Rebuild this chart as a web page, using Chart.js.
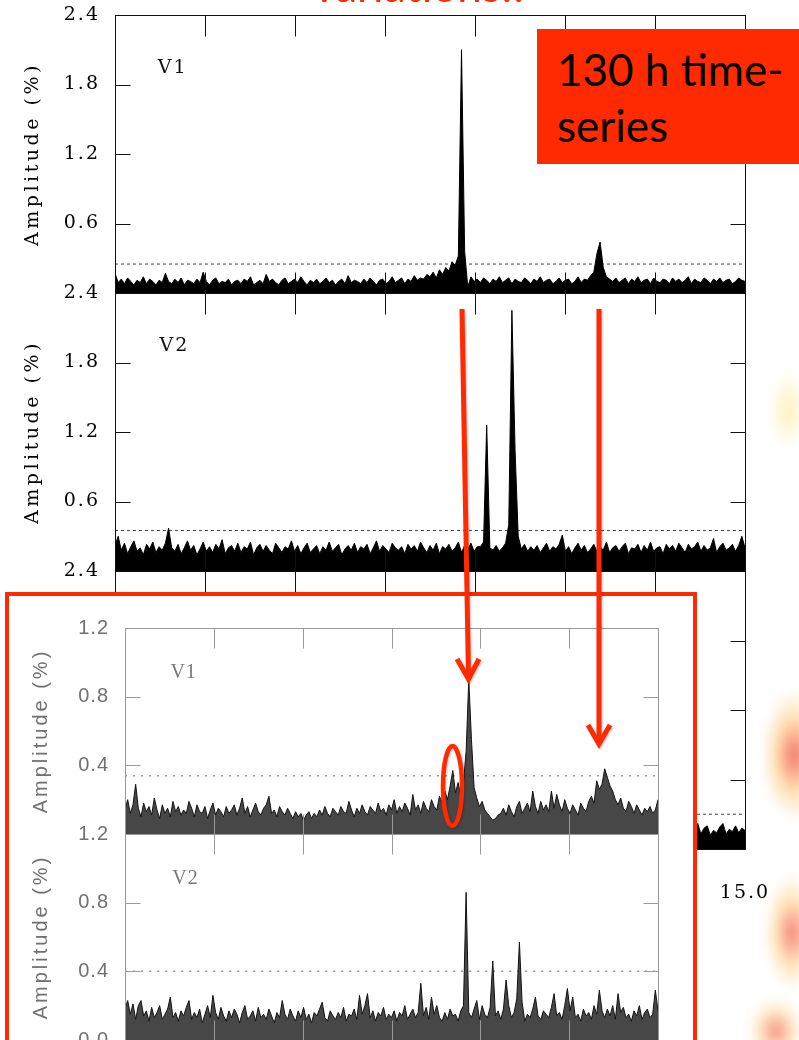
<!DOCTYPE html>
<html>
<head>
<meta charset="utf-8">
<title>Amplitude spectra V1 / V2</title>
<script src="https://cdn.jsdelivr.net/npm/chart.js@4.4.1/dist/chart.umd.min.js"></script>
<style>
  html, body { margin: 0; padding: 0; background: #fff; }
  body { width: 799px; height: 1040px; position: relative; overflow: hidden; }
  .abs { position: absolute; }
  #bigChart { left: 0; top: 0; }
  #zoomFrame { left: 5px; top: 592px; width: 684px; height: 470px; border: 4px solid #ff2a00; background: #fff; }
  #zoomChart { left: 10px; top: 597px; filter: blur(0.5px); }
  #note { left: 537px; top: 29px; width: 262px; height: 135px; background: #ff2a00; color: #000;
          font-family: Lato, "Open Sans", sans-serif; font-size: 44px; line-height: 56px;
          padding: 12px 0 0 20px; box-sizing: border-box; white-space: nowrap; }
  #heading { left: 313px; top: -37px; color: #ff2a00; font: 44px/44px Lato, sans-serif; white-space: nowrap; }
  #arrows { left: 0; top: 0; }
  .flame { position: absolute; border-radius: 50%; filter: blur(5px); }
</style>
</head>
<body>
<div class="flame" style="left:768px;top:370px;width:40px;height:80px;background:radial-gradient(ellipse,rgba(255,225,120,0.5),rgba(255,240,190,0) 70%);"></div>
<div class="flame" style="left:762px;top:690px;width:64px;height:130px;background:radial-gradient(ellipse,rgba(240,70,50,0.75),rgba(255,200,120,0.55) 40%,rgba(255,240,200,0) 72%);"></div>
<div class="flame" style="left:764px;top:875px;width:56px;height:115px;background:radial-gradient(ellipse,rgba(240,80,60,0.7),rgba(255,210,130,0.5) 42%,rgba(255,240,200,0) 72%);"></div>
<div class="flame" style="left:748px;top:998px;width:56px;height:66px;background:radial-gradient(ellipse,rgba(240,90,60,0.65),rgba(255,215,140,0.45) 45%,rgba(255,240,200,0) 72%);"></div>

<canvas id="bigChart" class="abs" width="799" height="910"></canvas>
<div id="zoomFrame" class="abs"></div>
<canvas id="zoomChart" class="abs" width="680" height="460"></canvas>
<div id="heading" class="abs">variations!!</div>
<div id="note" class="abs">130 h time-<br>series</div>
<svg id="arrows" class="abs" width="799" height="1040" style="filter:drop-shadow(1px 1px 1px rgba(0,0,0,0.25))">
  <g stroke="#ff2a00" fill="none" stroke-width="5">
    <line x1="462" y1="309" x2="468.5" y2="676"/>
    <polyline points="457,659 468.5,679 479,659"/>
    <line x1="599" y1="309" x2="599" y2="741"/>
    <polyline points="588,725 599,744 610,725"/>
    <ellipse cx="452.5" cy="786" rx="9.5" ry="40" stroke-width="4.5"/>
  </g>
</svg>

<script>
// frequency grids (c/d) of the two figures
const BIG_START = 8.0, BIG_END = 15.0, BIG_STEP = 0.035;
const ZOOM_START = 8.0, ZOOM_END = 14.0, ZOOM_STEP = 0.03;

// amplitudes (%)
const v1Big = [
  .17,.09,.12,.08,.13,.1,.07,.11,.09,.14,.08,.12,.1,.07,.11,.09,.17,.1,.08,.12,
  .09,.13,.07,.11,.1,.08,.12,.09,.18,.1,.07,.11,.13,.08,.1,.09,.12,.07,.1,.11,
  .08,.12,.1,.14,.07,.09,.11,.08,.16,.1,.12,.09,.07,.11,.13,.08,.1,.12,.09,.14,
  .1,.07,.11,.09,.12,.08,.1,.13,.09,.11,.07,.1,.12,.08,.15,.09,.11,.1,.08,.12,
  .09,.13,.1,.07,.11,.12,.08,.1,.14,.09,.11,.13,.08,.12,.1,.15,.11,.13,.12,.16,
  .14,.18,.13,.2,.16,.22,.19,.27,.24,.32,2.1,.36,.05,.14,.1,.12,.09,.13,.11,.08,
  .12,.1,.14,.09,.11,.13,.08,.12,.1,.09,.13,.11,.08,.12,.1,.14,.09,.11,.12,.08,
  .1,.13,.09,.11,.12,.08,.1,.14,.09,.12,.11,.15,.18,.34,.44,.22,.14,.12,.1,.13,
  .09,.11,.13,.08,.12,.1,.14,.09,.11,.12,.08,.13,.1,.09,.12,.11,.08,.13,.1,.12,
  .09,.11,.14,.08,.12,.1,.09,.13,.11,.08,.12,.1,.13,.09,.11,.12,.08,.1,.13,.11,
  .1
];
const v2Big = [
  .22,.3,.18,.24,.15,.21,.26,.17,.2,.14,.23,.19,.25,.16,.21,.18,.24,.37,.2,.17,
  .23,.15,.2,.26,.18,.22,.14,.19,.25,.17,.21,.16,.23,.19,.27,.15,.2,.22,.17,.24,
  .16,.21,.19,.25,.14,.2,.23,.17,.22,.18,.15,.24,.2,.16,.21,.19,.26,.17,.22,.15,
  .2,.24,.16,.19,.22,.15,.21,.18,.25,.17,.2,.23,.14,.19,.22,.18,.24,.16,.21,.19,
  .23,.15,.2,.26,.17,.22,.19,.16,.24,.2,.18,.21,.15,.23,.19,.22,.17,.25,.2,.16,
  .22,.18,.24,.15,.21,.19,.23,.17,.2,.25,.16,.22,.19,.24,.17,.21,.21,.25,1.26,.2,
  .18,.22,.17,.2,.24,.4,2.25,1.05,.3,.19,.23,.17,.21,.18,.22,.16,.2,.24,.17,.21,
  .19,.23,.31,.17,.21,.15,.2,.24,.18,.22,.16,.19,.23,.17,.21,.18,.25,.16,.2,.22,
  .17,.21,.24,.15,.2,.19,.23,.16,.22,.18,.25,.17,.2,.21,.15,.23,.19,.22,.17,.24,
  .2,.16,.23,.19,.21,.25,.17,.22,.18,.2,.28,.16,.21,.24,.18,.2,.23,.17,.22,.3,
  .2
];
const v3Big = [
  .12,.18,.1,.15,.13,.09,.16,.11,.14,.1,.17,.12,.09,.15,.11,.13,.1,.16,.12,.14,
  .1,.15,.12,.09,.14,.11,.17,.1,.13,.12,.09,.16,.11,.14,.1,.13,.15,.09,.12,.11,
  .14,.1,.13,.16,.09,.12,.11,.15,.1,.13,.17,.11,.09,.14,.12,.1,.15,.13,.11,.16,
  .09,.13,.11,.14,.1,.16,.12,.09,.15,.11,.13,.1,.14,.12,.17,.09,.11,.13,.1,.15,
  .12,.1,.14,.11,.09,.16,.13,.1,.12,.15,.11,.09,.14,.12,.1,.13,.17,.11,.12,.1,
  .15,.11,.13,.1,.14,.12,.09,.16,.11,.13,.1,.15,.12,.14,.09,.11,.13,.1,.16,.12,
  .1,.14,.11,.13,.09,.15,.12,.1,.14,.11,.16,.09,.13,.12,.1,.15,.11,.14,.1,.12,
  .13,.1,.16,.12,.09,.14,.11,.13,.1,.15,.12,.09,.14,.11,.17,.1,.12,.13,.11,.15,
  .1,.12,.14,.11,.16,.09,.13,.12,.1,.15,.11,.14,.09,.13,.12,.1,.16,.11,.13,.12,
  .14,.1,.12,.15,.11,.22,.13,.18,.2,.12,.16,.14,.19,.22,.13,.17,.15,.2,.14,.18,
  .16
];

// amplitudes (%) of the older, shorter data set (boxed figure)
const v1Zoom = [
  .14,.2,.12,.17,.29,.15,.1,.18,.13,.16,.11,.21,.14,.09,.17,.12,.15,.1,.19,.13,
  .16,.11,.14,.12,.19,.15,.1,.17,.13,.12,.16,.09,.14,.18,.11,.15,.13,.1,.16,.12,
  .14,.17,.11,.15,.21,.12,.16,.1,.14,.18,.13,.11,.15,.17,.22,.12,.14,.1,.16,.13,
  .11,.15,.12,.09,.13,.1,.12,.08,.11,.13,.09,.12,.1,.14,.11,.16,.12,.1,.15,.13,
  .11,.16,.13,.12,.19,.14,.1,.15,.12,.17,.13,.11,.16,.14,.12,.18,.13,.15,.11,.17,
  .14,.2,.12,.16,.13,.18,.15,.11,.23,.14,.17,.12,.19,.15,.13,.2,.16,.14,.22,.18,
  .25,.2,.28,.37,.24,.3,.22,.3,.48,.9,.55,.27,.21,.16,.19,.14,.12,.1,.08,.09,
  .11,.12,.15,.11,.17,.13,.1,.16,.19,.12,.15,.18,.13,.25,.16,.12,.19,.14,.17,.13,
  .25,.15,.23,.17,.13,.2,.15,.12,.17,.14,.11,.18,.15,.13,.19,.22,.18,.31,.26,.29,
  .38,.33,.28,.25,.2,.17,.21,.15,.13,.19,.16,.12,.17,.14,.11,.15,.13,.16,.12,.14,
  .2
];
const v2Zoom = [
  .18,.23,.15,.21,.12,.2,.23,.14,.17,.11,.19,.13,.16,.2,.12,.15,.18,.25,.13,.16,
  .11,.17,.14,.19,.23,.12,.16,.13,.18,.1,.15,.2,.13,.26,.16,.12,.19,.14,.11,.17,
  .13,.18,.15,.1,.16,.2,.12,.14,.17,.11,.19,.13,.15,.12,.18,.14,.1,.16,.13,.23,
  .15,.12,.18,.14,.11,.17,.13,.19,.12,.15,.1,.16,.14,.18,.22,.13,.11,.17,.14,.12,
  .16,.13,.19,.11,.15,.14,.18,.12,.26,.15,.2,.27,.13,.17,.11,.16,.14,.19,.12,.15,
  .13,.17,.11,.16,.14,.2,.12,.15,.18,.13,.16,.33,.14,.19,.12,.25,.15,.2,.13,.11,
  .16,.12,.18,.14,.15,.11,.17,.2,.86,.16,.13,.18,.23,.12,.2,.15,.13,.19,.46,.14,
  .17,.12,.18,.35,.2,.13,.16,.24,.57,.22,.11,.15,.13,.18,.25,.14,.12,.17,.15,.13,
  .19,.27,.14,.16,.12,.2,.3,.17,.25,.13,.15,.11,.18,.14,.16,.12,.2,.15,.29,.17,
  .13,.18,.14,.2,.12,.27,.16,.19,.13,.15,.11,.17,.14,.2,.12,.16,.18,.13,.15,.29,
  .17
];

// significance levels (dotted lines)
const bigLevels = [0.25, 0.35, 0.30];
const zoomLevels = [0.34, 0.40];

// panel names
const bigPanelNames = ['V1', 'V2'];
const zoomPanelNames = ['V1', 'V2'];

const toPoints = (vals, start, step) => vals.map((v, i) => ({ x: +(start + i * step).toFixed(3), y: v }));

function noiseSet(vals, start, step, axis, line, fillColor) {
  return {
    data: toPoints(vals, start, step), yAxisID: axis,
    borderColor: line, backgroundColor: fillColor, borderWidth: 1,
    pointRadius: 0, fill: 'origin', tension: 0
  };
}

function levelSet(level, xMin, xMax, axis, color, dash, width) {
  return {
    data: [{ x: xMin, y: level }, { x: xMax, y: level }], yAxisID: axis,
    borderColor: color, borderWidth: width, borderDash: dash, pointRadius: 0, fill: false
  };
}

function ampAxis(stack, max, step, showZero, st) {
  return {
    type: 'linear', position: 'left', stack: stack, stackWeight: 1, min: 0, max: max,
    grid: { display: false }, border: { display: false },
    ticks: {
      stepSize: step, padding: st.tickPad, color: st.text, font: st.font, z: 1,
      callback: v => (v === 0 && !showZero) ? '' : v.toFixed(1)
    },
    title: {
      display: true, text: 'Amplitude (%)', color: st.text, font: st.font,
      padding: { top: st.titlePad, bottom: 0 }
    },
    // fixed width, and no extra room asked for the end labels
    afterFit: s => { s.width = st.axisWidth; s.paddingTop = 0; s.paddingBottom = 0; }
  };
}

// inward tick marks and panel boxes, like the original plots
const framePlugin = {
  id: 'frame',
  afterDatasetsDraw(chart, args, opts) {
    const { ctx, chartArea: a, scales } = chart;
    const xs = scales.x;
    const seg = (x1, y1, x2, y2) => { ctx.beginPath(); ctx.moveTo(x1, y1); ctx.lineTo(x2, y2); ctx.stroke(); };
    ctx.save();
    ctx.strokeStyle = opts.color;
    ctx.lineWidth = 1;
    opts.panels.forEach(id => {
      const ys = scales[id];
      const top = Math.round(ys.top) + 0.5, bot = Math.round(ys.bottom) + 0.5;
      const l = Math.round(a.left) + 0.5, r = Math.round(a.right) + 0.5;
      ctx.strokeRect(l, top, r - l, bot - top);
      ys.ticks.forEach(t => {
        if (t.value <= ys.min || t.value >= ys.max) return;
        const py = Math.round(ys.getPixelForValue(t.value)) + 0.5;
        seg(l, py, l + opts.yLen, py);
        seg(r - opts.yLen, py, r, py);
      });
      xs.ticks.forEach(t => {
        if (t.value <= xs.min || t.value >= xs.max) return;
        const px = Math.round(xs.getPixelForValue(t.value)) + 0.5;
        seg(px, top, px, top + opts.xLen);
        seg(px, bot - opts.xLen, px, bot);
      });
    });
    ctx.restore();
  }
};

// V1 / V2 tags inside the panels
const tagPlugin = {
  id: 'tags',
  afterDraw(chart, args, opts) {
    const ctx = chart.ctx;
    ctx.save();
    ctx.font = opts.font;
    ctx.fillStyle = opts.color;
    ctx.textAlign = 'center';
    ctx.textBaseline = 'middle';
    opts.items.forEach(it => {
      ctx.fillText(it.text, chart.scales.x.getPixelForValue(it.x), chart.scales[it.axis].getPixelForValue(it.y));
    });
    ctx.restore();
  }
};

// wide letter spacing of the plot fonts (titles drawn before datasets, tick labels after)
const spacingPlugin = {
  id: 'spacing',
  beforeDraw(chart, args, opts) { chart.ctx.letterSpacing = opts.title; },
  beforeDatasetsDraw(chart, args, opts) { chart.ctx.letterSpacing = opts.ticks; }
};

const bigStyle = { text: '#000', font: { family: 'DejaVu Serif', size: 19 }, tickPad: 7, titlePad: 22, axisWidth: 115 };
const zoomStyle = { text: '#707070', font: { family: 'Liberation Sans', size: 20 }, tickPad: 8, titlePad: 19, axisWidth: 115 };

const common = {
  responsive: false, animation: false, devicePixelRatio: 1, events: [],
  elements: { line: { tension: 0 } }
};

// 130 h spectra: three stacked panels sharing one frequency axis
new Chart(document.getElementById('bigChart'), {
  type: 'line',
  data: {
    datasets: [
      noiseSet(v1Big, BIG_START, BIG_STEP, 'y1', '#000', '#000'),
      noiseSet(v2Big, BIG_START, BIG_STEP, 'y2', '#000', '#000'),
      noiseSet(v3Big, BIG_START, BIG_STEP, 'y3', '#000', '#000'),
      levelSet(bigLevels[0], BIG_START, BIG_END, 'y1', '#444', [3, 3], 1),
      levelSet(bigLevels[1], BIG_START, BIG_END, 'y2', '#444', [3, 3], 1),
      levelSet(bigLevels[2], BIG_START, BIG_END, 'y3', '#444', [3, 3], 1)
    ]
  },
  options: Object.assign({}, common, {
    layout: { padding: { top: 15, right: 54, left: 0, bottom: 0 } },
    scales: {
      x: {
        type: 'linear', min: BIG_START, max: BIG_END,
        grid: { display: false }, border: { display: false },
        ticks: { stepSize: 1, padding: 25, color: '#000', font: bigStyle.font, maxRotation: 0, autoSkip: false, z: 1,
                 callback: v => v.toFixed(1) },
        afterFit: s => { s.height = 61; s.paddingLeft = 0; s.paddingRight = 0; }
      },
      y3: ampAxis('big', 2.4, 0.6, true, bigStyle),
      y2: ampAxis('big', 2.4, 0.6, false, bigStyle),
      y1: ampAxis('big', 2.4, 0.6, false, bigStyle)
    },
    plugins: {
      legend: { display: false }, tooltip: { enabled: false },
      frame: { color: '#111', yLen: 15, xLen: 21, panels: ['y1', 'y2', 'y3'] },
      spacing: { title: '3.5px', ticks: '2px' },
      tags: {
        font: '19px "DejaVu Serif"', color: '#111',
        items: [
          { text: bigPanelNames[0], axis: 'y1', x: 8.64, y: 1.94 },
          { text: bigPanelNames[1], axis: 'y2', x: 8.66, y: 1.94 }
        ]
      }
    }
  }),
  plugins: [spacingPlugin, framePlugin, tagPlugin]
});

// older spectra in the red box
new Chart(document.getElementById('zoomChart'), {
  type: 'line',
  data: {
    datasets: [
      noiseSet(v1Zoom, ZOOM_START, ZOOM_STEP, 'y1', '#111', 'rgba(25,25,25,0.8)'),
      noiseSet(v2Zoom, ZOOM_START, ZOOM_STEP, 'y2', '#111', 'rgba(25,25,25,0.8)'),
      levelSet(zoomLevels[0], ZOOM_START, ZOOM_END, 'y1', '#999', [2, 6], 1.5),
      levelSet(zoomLevels[1], ZOOM_START, ZOOM_END, 'y2', '#999', [2, 6], 1.5)
    ]
  },
  options: Object.assign({}, common, {
    layout: { padding: { top: 31, right: 32, left: 0, bottom: 0 } },
    scales: {
      x: {
        type: 'linear', min: ZOOM_START, max: ZOOM_END,
        grid: { display: false }, border: { display: false },
        ticks: { stepSize: 1, display: false },
        afterFit: s => { s.height = 17; s.paddingLeft = 0; s.paddingRight = 0; }
      },
      y2: ampAxis('zoom', 1.2, 0.4, true, zoomStyle),
      y1: ampAxis('zoom', 1.2, 0.4, false, zoomStyle)
    },
    plugins: {
      legend: { display: false }, tooltip: { enabled: false },
      frame: { color: '#999', yLen: 15, xLen: 20, panels: ['y1', 'y2'] },
      spacing: { title: '3px', ticks: '1px' },
      tags: {
        font: '20px "Liberation Serif"', color: '#777',
        items: [
          { text: zoomPanelNames[0], axis: 'y1', x: 8.66, y: 0.94 },
          { text: zoomPanelNames[1], axis: 'y2', x: 8.68, y: 0.94 }
        ]
      }
    }
  }),
  plugins: [spacingPlugin, framePlugin, tagPlugin]
});
</script>
</body>
</html>
